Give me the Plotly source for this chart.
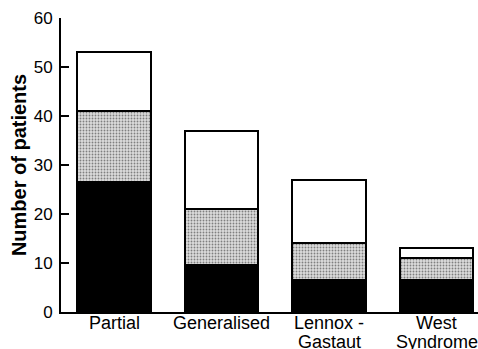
import plotly.graph_objects as go

categories = ["Partial", "Generalised", "Lennox -<br>Gastaut", "West<br>Syndrome"]
black_vals = [26.5, 9.5, 6.5, 6.5]
dotted_vals = [14.5, 11.5, 7.5, 4.5]
white_vals = [12, 16, 13, 2]
y_ticks = [0, 10, 20, 30, 40, 50, 60]

fig = go.Figure()
line = dict(color="black", width=2)
fig.add_bar(x=categories, y=black_vals, marker=dict(color="black", line=line), width=0.68)
fig.add_bar(x=categories, y=dotted_vals, width=0.68,
            marker=dict(color="#d8d8d8", line=line,
                        pattern=dict(shape=".", fgcolor="#222222", bgcolor="#dcdcdc",
                                     size=3, solidity=0.3)))
fig.add_bar(x=categories, y=white_vals, marker=dict(color="white", line=line), width=0.68)

# category labels, one annotation per text line (tighter line spacing as in the original)
for cat in categories:
    for i, part in enumerate(cat.split("<br>")):
        fig.add_annotation(x=cat, xref="x", y=0, yref="paper", text=part,
                           showarrow=False, yanchor="top", xanchor="center",
                           yshift=1 - 19 * i, font=dict(size=18, color="black"))

fig.update_layout(
    barmode="stack",
    width=478, height=349,
    margin=dict(l=61, r=0, t=18, b=37),
    paper_bgcolor="white", plot_bgcolor="white",
    showlegend=False,
    font=dict(family="Liberation Sans, Arial, sans-serif", color="black", size=17),
    xaxis=dict(range=[-0.493, 3.386], showline=True, linecolor="black", linewidth=2,
               ticks="", showticklabels=False, showgrid=False, automargin=False),
    yaxis=dict(range=[0, 60], tickvals=y_ticks, showline=True, linecolor="black",
               linewidth=2, ticks="inside", ticklen=8, tickwidth=2, tickcolor="black",
               showgrid=False, zeroline=False, tickfont=dict(size=17), ticklabelstandoff=3,
               automargin=False,
               title=dict(text="<b>Number of patients</b>", font=dict(size=20), standoff=2)),
)
fig.write_html("out.html", config={"displayModeBar": False},
               post_script="document.body.style.margin='0';document.body.style.overflow='hidden';")
